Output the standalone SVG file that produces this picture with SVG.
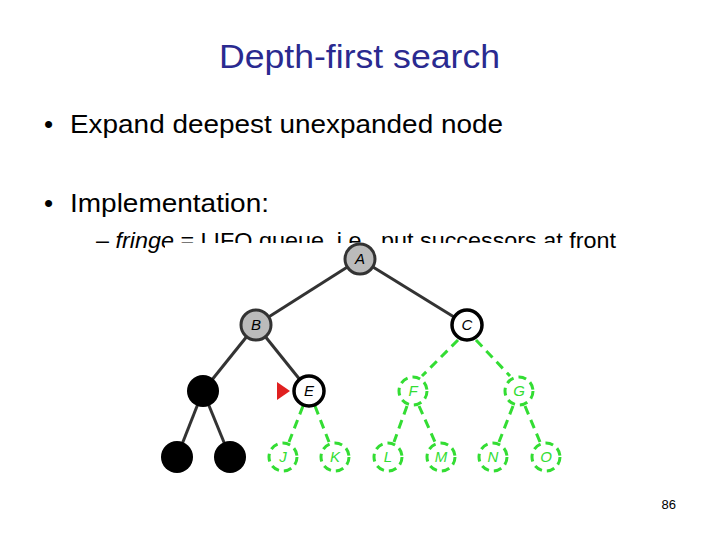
<svg xmlns="http://www.w3.org/2000/svg" width="720" height="540" viewBox="0 0 720 540">
<style>
text{font-family:"Liberation Sans",Arial,sans-serif}
.e{stroke:#333;stroke-width:3}
.g{stroke:#33dd33;stroke-width:3;stroke-dasharray:9,6}
.gr{fill:#bbb;stroke:#333;stroke-width:3}
.w{fill:#fff;stroke:#000;stroke-width:3.5}
.b{fill:#000}
.gn{fill:#fff;stroke:#33dd33;stroke-width:3;stroke-dasharray:8,5}
.l{font-size:15px;font-style:italic;text-anchor:middle}
.lg{font-size:15px;font-style:italic;text-anchor:middle;fill:#33dd33}
</style>
<rect width="720" height="540" fill="#fff"/>
<text x="219" y="68" font-size="33" fill="#2a2a90" textLength="281" lengthAdjust="spacingAndGlyphs">Depth-first search</text>
<text x="44" y="133" font-size="26">•</text><text x="70" y="133" font-size="26" textLength="433" lengthAdjust="spacingAndGlyphs">Expand deepest unexpanded node</text>
<text x="44" y="212" font-size="26">•</text><text x="70" y="212" font-size="26" textLength="199" lengthAdjust="spacingAndGlyphs">Implementation:</text>
<text x="96" y="248" font-size="22" textLength="520" lengthAdjust="spacingAndGlyphs">– <tspan font-style="italic">fringe</tspan> = LIFO queue, i.e., put successors at front</text>
<rect x="165" y="243" width="400" height="240" fill="#fff"/>
<text x="676" y="509" font-size="13" text-anchor="end">86</text>
<g id="connectors">
<line class="e" x1="360" y1="259" x2="256" y2="325"/>
<line class="e" x1="360" y1="259" x2="467" y2="325"/>
<line class="e" x1="256" y1="325" x2="203" y2="391"/>
<line class="e" x1="256" y1="325" x2="309" y2="391"/>
<line class="e" x1="203" y1="391" x2="177" y2="457"/>
<line class="e" x1="203" y1="391" x2="230" y2="457"/>
<line class="g" x1="458" y1="340" x2="422" y2="376"/>
<line class="g" x1="476" y1="340" x2="510" y2="376"/>
<line class="g" x1="303" y1="406" x2="289" y2="442"/>
<line class="g" x1="315" y1="406" x2="329" y2="442"/>
<line class="g" x1="407" y1="406" x2="394" y2="442"/>
<line class="g" x1="419" y1="406" x2="435" y2="442"/>
<line class="g" x1="513" y1="406" x2="499" y2="442"/>
<line class="g" x1="525" y1="406" x2="540" y2="442"/>
</g>
<g id="A"><circle class="gr" cx="360" cy="259" r="15"/><text class="l" x="360" y="264">A</text></g>
<g id="B"><circle class="gr" cx="256" cy="325" r="15"/><text class="l" x="256" y="330">B</text></g>
<g id="C"><circle class="w" cx="467" cy="325" r="15"/><text class="l" x="467" y="330">C</text></g>
<g id="D"><circle class="b" cx="203" cy="391" r="16"/></g>
<g id="E"><circle class="w" cx="309" cy="391" r="15"/><text class="l" x="309" y="396">E</text><polygon points="277,382 277,400 290,391" fill="#e02020"/></g>
<g id="F"><circle class="gn" cx="413" cy="391" r="14"/><text class="lg" x="413" y="396">F</text></g>
<g id="G"><circle class="gn" cx="519" cy="391" r="14"/><text class="lg" x="519" y="396">G</text></g>
<g id="H"><circle class="b" cx="177" cy="457" r="16"/></g>
<g id="I"><circle class="b" cx="230" cy="457" r="16"/></g>
<g id="J"><circle class="gn" cx="283" cy="457" r="14"/><text class="lg" x="283" y="462">J</text></g>
<g id="K"><circle class="gn" cx="335" cy="457" r="14"/><text class="lg" x="335" y="462">K</text></g>
<g id="L"><circle class="gn" cx="388" cy="457" r="14"/><text class="lg" x="388" y="462">L</text></g>
<g id="M"><circle class="gn" cx="441" cy="457" r="14"/><text class="lg" x="441" y="462">M</text></g>
<g id="N"><circle class="gn" cx="493" cy="457" r="14"/><text class="lg" x="493" y="462">N</text></g>
<g id="O"><circle class="gn" cx="546" cy="457" r="14"/><text class="lg" x="546" y="462">O</text></g>
</svg>
